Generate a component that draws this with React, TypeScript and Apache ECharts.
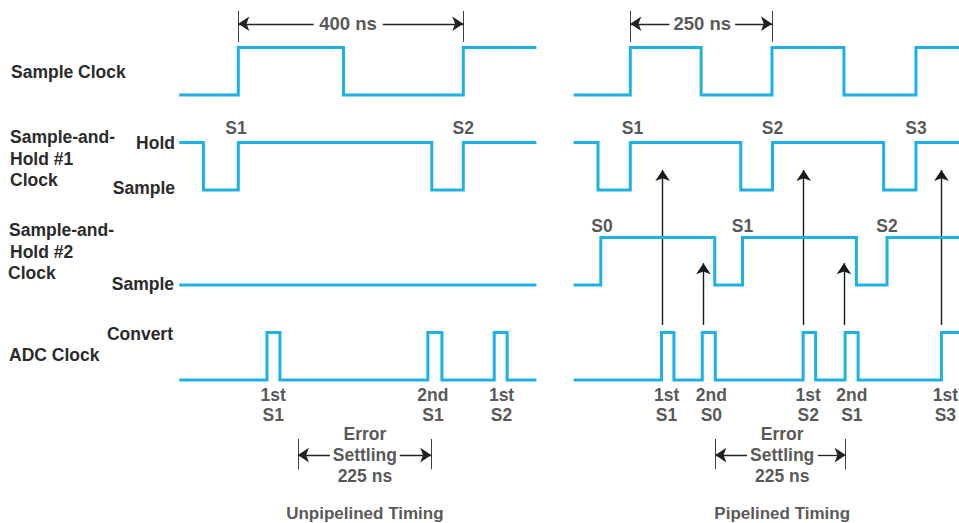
import { useEffect, useRef } from "react";
import * as echarts from "echarts";

// ---------- DATA (times in ns, levels 0 = low, 1 = high) ----------
// Unpipelined timing
const leftClockEdges = [0, 187, 400];
const leftSH1Edges = [-62, 0, 344, 400];
const leftSH2Edges: number[] = [];
const leftADCEdges = [51, 74, 337, 362, 455, 478];
// Pipelined timing
const rightClockEdges = [0, 125, 250, 377, 504];
const rightSH1Edges = [-57, 0, 195, 251, 447, 504];
const rightSH2Edges = [-52, 149, 198, 399, 453];
const rightADCEdges = [55, 77, 127, 150, 305, 327, 379, 402, 549];

// initial levels: clock low, S/H #1 hold (high), S/H #2 sample (low), ADC low
const initClock = 0;
const initSH1 = 1;
const initSH2 = 0;
const initADC = 0;

// sample labels
const leftSH1Labels = [
  { t: -4, text: "S1" },
  { t: 400, text: "S2" },
];
const rightSH1Labels = [
  { t: 4, text: "S1" },
  { t: 251, text: "S2" },
  { t: 504, text: "S3" },
];
const rightSH2Labels = [
  { t: -50, text: "S0" },
  { t: 198, text: "S1" },
  { t: 453, text: "S2" },
];
// ADC conversion labels
const leftADCLabels = [
  { t: 62, text: "1st\nS1" },
  { t: 346, text: "2nd\nS1" },
  { t: 468, text: "1st\nS2" },
];
const rightADCLabels = [
  { t: 64, text: "1st\nS1" },
  { t: 143, text: "2nd\nS0" },
  { t: 314, text: "1st\nS2" },
  { t: 391, text: "2nd\nS1" },
  { t: 556, text: "1st\nS3" },
];
// arrows (ADC conversion -> sample held)
const rightFirstArrows = [57, 306, 549];
const rightSecondArrows = [129, 377];

// dimension markers
const leftPeriod = { from: 0, to: 400, label: "400 ns", labelAt: 195, gapFrom: 134, gapTo: 257 };
const rightPeriod = { from: 0, to: 250, label: "250 ns", labelAt: 127, gapFrom: 69, gapTo: 185 };
const leftSettling = { from: 106, to: 343, labelAt: 225, gapFrom: 163, gapTo: 287, label: "Error\nSettling\n225 ns" };
const rightSettling = { from: 150, to: 380, labelAt: 268, gapFrom: 206, gapTo: 331, label: "Error\nSettling\n225 ns" };

const leftTitle = "Unpipelined Timing";
const rightTitle = "Pipelined Timing";

// ---------- LAYOUT ----------
const W = 959;
const H = 523;
const unit = 47.5; // px per level unit
const yMin = -3;
const yMax = 8;
const laneClock = 6;
const laneSH1 = 4;
const laneSH2 = 2;
const laneADC = 0;

const leftRange = [-105, 530];
const rightRange = [-100, 580];
const leftOrigin = 238.3;
const leftScale = 0.5625;
const rightOrigin = 630.5;
const rightScale = 0.5688;

const CYAN = "#1fb1e6";
const TEXT = "#2b2b2b";
const FONT = "'Liberation Sans', Arial, Helvetica, sans-serif";

function wave(edges: number[], init: number, base: number, range: number[]) {
  const pts: number[][] = [];
  let lvl = init;
  pts.push([range[0], base + lvl]);
  for (const e of edges) {
    pts.push([e, base + lvl]);
    lvl = 1 - lvl;
    pts.push([e, base + lvl]);
  }
  pts.push([range[1], base + lvl]);
  return pts;
}

export default function App() {
  const ref = useRef<HTMLDivElement>(null);

  useEffect(() => {
    if (!ref.current) return;
    const chart = echarts.init(ref.current, null, { renderer: "svg" });

    const sigSeries = (data: number[][], idx: number) => ({
      type: "line",
      xAxisIndex: idx,
      yAxisIndex: idx,
      data,
      showSymbol: false,
      symbol: "none",
      silent: true,
      clip: false,
      lineStyle: { color: CYAN, width: 3, cap: "butt", join: "miter" },
    });

    const textSeries = (items: { value: number[]; name: string }[], idx: number, size = 17.5, lh = 20) => ({
      type: "scatter",
      xAxisIndex: idx,
      yAxisIndex: idx,
      symbolSize: 0.1,
      silent: true,
      clip: false,
      itemStyle: { color: "rgba(0,0,0,0)" },
      label: {
        show: true,
        position: "inside",
        formatter: "{b}",
        color: TEXT,
        fontSize: size,
        fontWeight: "bold",
        fontFamily: FONT,
        lineHeight: lh,
        align: "center",
        verticalAlign: "middle",
      },
      data: items,
    });

    const linesSeries = (coords: number[][][], idx: number, arrowEnd: boolean, color: string, width: number) => ({
      type: "lines",
      coordinateSystem: "cartesian2d",
      xAxisIndex: idx,
      yAxisIndex: idx,
      silent: true,
      clip: false,
      symbol: arrowEnd ? ["none", "arrow"] : ["none", "none"],
      symbolSize: 11,
      lineStyle: { color, width, opacity: 1, curveness: 0 },
      data: coords.map((c) => ({ coords: c })),
    });

    const dimY = 7.5;
    const tickLo = 7.12;
    const tickHi = 7.77;
    const setY = -1.58;
    const brLo = -1.88;
    const brHi = -1.24;

    const dimSeries = (p: typeof leftPeriod, idx: number) => [
      linesSeries(
        [
          [[p.from, tickLo], [p.from, tickHi]],
          [[p.to, tickLo], [p.to, tickHi]],
        ],
        idx,
        false,
        "#4a3a3a",
        1
      ),
      linesSeries(
        [
          [[p.gapFrom, dimY], [p.from, dimY]],
          [[p.gapTo, dimY], [p.to, dimY]],
        ],
        idx,
        true,
        "#222",
        1.3
      ),
      textSeries([{ value: [p.labelAt, dimY], name: p.label }], idx, 18.5),
    ];

    const settleSeries = (p: typeof leftSettling, idx: number) => [
      linesSeries(
        [
          [[p.from, brLo], [p.from, brHi]],
          [[p.to, brLo], [p.to, brHi]],
        ],
        idx,
        false,
        "#2f4a3a",
        1
      ),
      linesSeries(
        [
          [[p.gapFrom, setY], [p.from, setY]],
          [[p.gapTo, setY], [p.to, setY]],
        ],
        idx,
        true,
        "#222",
        1.3
      ),
      textSeries([{ value: [p.labelAt, setY], name: p.label }], idx, 17.5, 21),
    ];

    const labelItems = (arr: { t: number; text: string }[], y: number) =>
      arr.map((a) => ({ value: [a.t, y], name: a.text }));

    const series: any[] = [
      // left waves
      sigSeries(wave(leftClockEdges, initClock, laneClock, leftRange), 0),
      sigSeries(wave(leftSH1Edges, initSH1, laneSH1, leftRange), 0),
      sigSeries(wave(leftSH2Edges, initSH2, laneSH2, leftRange), 0),
      sigSeries(wave(leftADCEdges, initADC, laneADC, leftRange), 0),
      // right waves
      sigSeries(wave(rightClockEdges, initClock, laneClock, rightRange), 1),
      sigSeries(wave(rightSH1Edges, initSH1, laneSH1, rightRange), 1),
      sigSeries(wave(rightSH2Edges, initSH2, laneSH2, rightRange), 1),
      sigSeries(wave(rightADCEdges, initADC, laneADC, rightRange), 1),
      // arrows
      linesSeries(
        rightFirstArrows.map((t) => [[t, 1.16], [t, 4.42]]),
        1,
        true,
        "#1a1a1a",
        1.4
      ),
      linesSeries(
        rightSecondArrows.map((t) => [[t, 1.16], [t, 2.46]]),
        1,
        true,
        "#1a1a1a",
        1.4
      ),
      // labels
      textSeries(labelItems(leftSH1Labels, 5.31), 0),
      textSeries(labelItems(rightSH1Labels, 5.31), 1),
      textSeries(labelItems(rightSH2Labels, 3.24), 1),
      textSeries(labelItems(leftADCLabels, -0.53), 0),
      textSeries(labelItems(rightADCLabels, -0.53), 1),
      ...dimSeries(leftPeriod, 0),
      ...dimSeries(rightPeriod, 1),
      ...settleSeries(leftSettling, 0),
      ...settleSeries(rightSettling, 1),
      textSeries([{ value: [leftSettling.labelAt, -2.8], name: leftTitle }], 0, 17),
      textSeries([{ value: [rightSettling.labelAt, -2.8], name: rightTitle }], 1, 17),
    ];

    const gText = (text: string, x: number, y: number, align: string = "left") => ({
      type: "text",
      x,
      y,
      silent: true,
      style: {
        text,
        fill: TEXT,
        font: `bold 17.5px ${FONT}`,
        textAlign: align,
        textVerticalAlign: "middle",
      },
    });

    const option: any = {
      animation: false,
      backgroundColor: "#ffffff",
      grid: [
        {
          left: leftOrigin + leftRange[0] * leftScale,
          width: (leftRange[1] - leftRange[0]) * leftScale,
          top: 0,
          height: (yMax - yMin) * unit,
          containLabel: false,
        },
        {
          left: rightOrigin + rightRange[0] * rightScale,
          width: (rightRange[1] - rightRange[0]) * rightScale,
          top: 0,
          height: (yMax - yMin) * unit,
          containLabel: false,
        },
      ],
      xAxis: [
        { type: "value", gridIndex: 0, min: leftRange[0], max: leftRange[1], show: false },
        { type: "value", gridIndex: 1, min: rightRange[0], max: rightRange[1], show: false },
      ],
      yAxis: [
        { type: "value", gridIndex: 0, min: yMin, max: yMax, show: false },
        { type: "value", gridIndex: 1, min: yMin, max: yMax, show: false },
      ],
      graphic: [
        gText("Sample Clock", 11, 72),
        gText("Sample-and-", 10, 137),
        gText("Hold #1", 10, 159),
        gText("Clock", 10, 180),
        gText("Hold", 175, 143, "right"),
        gText("Sample", 175, 188, "right"),
        gText("Sample-and-", 9, 230),
        gText("Hold #2", 10, 252),
        gText("Clock", 8, 273),
        gText("Sample", 174, 284, "right"),
        gText("Convert", 173, 334, "right"),
        gText("ADC Clock", 9, 355),
      ],
      series,
    };

    chart.setOption(option);
    return () => chart.dispose();
  }, []);

  return (
    <div
      ref={ref}
      style={{ position: "absolute", left: 0, top: 0, width: W, height: H, background: "#fff" }}
    />
  );
}
